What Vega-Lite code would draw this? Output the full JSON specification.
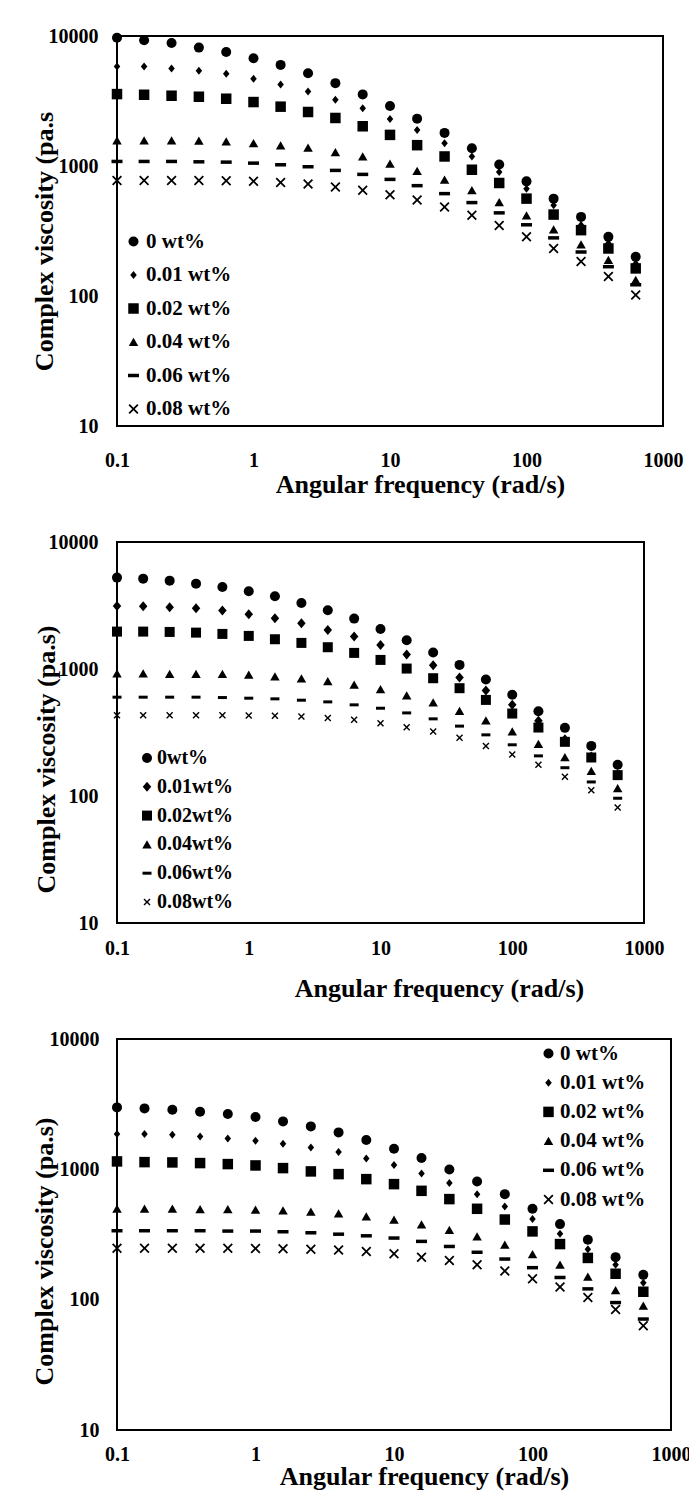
{
  "$schema": "https://vega.github.io/schema/vega-lite/v6.json",
  "background": "white",
  "padding": {"left": 30, "top": 25, "right": 5, "bottom": 5},
  "bounds": "flush",
  "spacing": 116,
  "config": {
    "font": "Liberation Serif",
    "view": {"stroke": "black", "strokeWidth": 2},
    "axis": {
      "labelFont": "Liberation Serif", "labelFontSize": 20, "labelFontWeight": "bold", "labelColor": "black",
      "titleFont": "Liberation Serif", "titleFontSize": 26, "titleFontWeight": "bold", "titleColor": "black",
      "grid": false, "ticks": false, "tickSize": 0, "domain": false, "labelFlush": false, "labelOverlap": false
    },
    "legend": {
      "orient": "none", "title": null, "labelFont": "Liberation Serif", "labelFontWeight": "bold",
      "labelColor": "black", "symbolFillColor": "black", "symbolStrokeWidth": 0, "symbolSize": 100,
      "padding": 0, "labelOffset": 2
    }
  },
  "datasets": {
    "p1": [
      {"f": 0.1, "a": 9710, "b": 5822, "c": 3574, "d": 1570, "e": 1084, "g": 775},
      {"f": 0.158, "a": 9265, "b": 5822, "c": 3532, "d": 1570, "e": 1084, "g": 775},
      {"f": 0.251, "a": 8840, "b": 5623, "c": 3472, "d": 1570, "e": 1084, "g": 775},
      {"f": 0.398, "a": 8140, "b": 5395, "c": 3411, "d": 1561, "e": 1077, "g": 775},
      {"f": 0.631, "a": 7540, "b": 5117, "c": 3292, "d": 1542, "e": 1071, "g": 771},
      {"f": 1, "a": 6745, "b": 4686, "c": 3104, "d": 1497, "e": 1052, "g": 762},
      {"f": 1.58, "a": 5995, "b": 4239, "c": 2860, "d": 1437, "e": 1022, "g": 748},
      {"f": 2.51, "a": 5175, "b": 3748, "c": 2603, "d": 1379, "e": 987, "g": 727},
      {"f": 3.98, "a": 4340, "b": 3235, "c": 2341, "d": 1278, "e": 925, "g": 689},
      {"f": 6.31, "a": 3555, "b": 2776, "c": 2021, "d": 1184, "e": 862, "g": 650},
      {"f": 10, "a": 2893, "b": 2300, "c": 1735, "d": 1040, "e": 789, "g": 602},
      {"f": 15.8, "a": 2314, "b": 1894, "c": 1446, "d": 914, "e": 706, "g": 548},
      {"f": 25.1, "a": 1797, "b": 1497, "c": 1184, "d": 785, "e": 613, "g": 484},
      {"f": 39.8, "a": 1371, "b": 1184, "c": 936, "d": 650, "e": 523, "g": 418},
      {"f": 63.1, "a": 1028, "b": 898, "c": 740, "d": 526, "e": 436, "g": 348},
      {"f": 100, "a": 762, "b": 669, "c": 561, "d": 416, "e": 353, "g": 285},
      {"f": 158, "a": 561, "b": 499, "c": 423, "d": 325, "e": 280, "g": 232},
      {"f": 251, "a": 406, "b": 351, "c": 321, "d": 249, "e": 218, "g": 184},
      {"f": 398, "a": 285, "b": 254, "c": 232, "d": 189, "e": 168, "g": 141},
      {"f": 631, "a": 200, "b": 178, "c": 163, "d": 133, "e": 122, "g": 102}
    ],
    "p2": [
      {"f": 0.1, "a": 5242, "b": 3137, "c": 1970, "d": 921, "e": 600, "g": 433},
      {"f": 0.158, "a": 5147, "b": 3118, "c": 1970, "d": 921, "e": 600, "g": 433},
      {"f": 0.251, "a": 4963, "b": 3062, "c": 1958, "d": 915, "e": 600, "g": 433},
      {"f": 0.398, "a": 4700, "b": 3006, "c": 1934, "d": 915, "e": 600, "g": 433},
      {"f": 0.631, "a": 4426, "b": 2882, "c": 1889, "d": 915, "e": 596, "g": 433},
      {"f": 1, "a": 4091, "b": 2697, "c": 1822, "d": 899, "e": 589, "g": 430},
      {"f": 1.58, "a": 3738, "b": 2508, "c": 1715, "d": 872, "e": 582, "g": 428},
      {"f": 2.51, "a": 3311, "b": 2292, "c": 1605, "d": 841, "e": 568, "g": 423},
      {"f": 3.98, "a": 2900, "b": 2031, "c": 1484, "d": 801, "e": 551, "g": 412},
      {"f": 6.31, "a": 2494, "b": 1800, "c": 1339, "d": 750, "e": 522, "g": 398},
      {"f": 10, "a": 2068, "b": 1547, "c": 1179, "d": 693, "e": 491, "g": 374},
      {"f": 15.8, "a": 1684, "b": 1299, "c": 1008, "d": 618, "e": 451, "g": 348},
      {"f": 25.1, "a": 1347, "b": 1071, "c": 846, "d": 544, "e": 405, "g": 322},
      {"f": 39.8, "a": 1077, "b": 856, "c": 706, "d": 468, "e": 355, "g": 287},
      {"f": 63.1, "a": 826, "b": 677, "c": 571, "d": 393, "e": 303, "g": 248},
      {"f": 100, "a": 626, "b": 522, "c": 446, "d": 322, "e": 253, "g": 212},
      {"f": 158, "a": 465, "b": 391, "c": 346, "d": 257, "e": 207, "g": 176},
      {"f": 251, "a": 344, "b": 280, "c": 267, "d": 202, "e": 167, "g": 142},
      {"f": 398, "a": 248, "b": 205, "c": 201, "d": 157, "e": 129, "g": 111},
      {"f": 631, "a": 176, "b": 149, "c": 146, "d": 115, "e": 96, "g": 81}
    ],
    "p3": [
      {"f": 0.1, "a": 2988, "b": 1865, "c": 1150, "d": 498, "e": 338, "g": 248},
      {"f": 0.158, "a": 2935, "b": 1865, "c": 1136, "d": 498, "e": 338, "g": 248},
      {"f": 0.251, "a": 2867, "b": 1843, "c": 1130, "d": 498, "e": 338, "g": 248},
      {"f": 0.398, "a": 2767, "b": 1789, "c": 1117, "d": 495, "e": 338, "g": 248},
      {"f": 0.631, "a": 2656, "b": 1727, "c": 1097, "d": 495, "e": 336, "g": 248},
      {"f": 1, "a": 2518, "b": 1657, "c": 1071, "d": 489, "e": 336, "g": 247},
      {"f": 1.58, "a": 2333, "b": 1572, "c": 1022, "d": 483, "e": 332, "g": 246},
      {"f": 2.51, "a": 2135, "b": 1473, "c": 964, "d": 472, "e": 326, "g": 244},
      {"f": 3.98, "a": 1920, "b": 1356, "c": 919, "d": 459, "e": 318, "g": 241},
      {"f": 6.31, "a": 1677, "b": 1213, "c": 841, "d": 435, "e": 309, "g": 234},
      {"f": 10, "a": 1439, "b": 1078, "c": 770, "d": 410, "e": 297, "g": 225},
      {"f": 15.8, "a": 1220, "b": 930, "c": 684, "d": 378, "e": 280, "g": 212},
      {"f": 25.1, "a": 998, "b": 784, "c": 591, "d": 343, "e": 256, "g": 200},
      {"f": 39.8, "a": 807, "b": 645, "c": 498, "d": 305, "e": 231, "g": 185},
      {"f": 63.1, "a": 645, "b": 519, "c": 412, "d": 264, "e": 205, "g": 166},
      {"f": 100, "a": 498, "b": 415, "c": 334, "d": 223, "e": 176, "g": 145},
      {"f": 158, "a": 380, "b": 320, "c": 267, "d": 185, "e": 148, "g": 125},
      {"f": 251, "a": 288, "b": 244, "c": 209, "d": 150, "e": 121, "g": 104},
      {"f": 398, "a": 212, "b": 185, "c": 158, "d": 118, "e": 95, "g": 84},
      {"f": 631, "a": 155, "b": 135, "c": 115, "d": 90, "e": 71, "g": 63}
    ]
  },
  "vconcat": [
    {
      "width": 546, "height": 390,
      "data": {"name": "p1"},
      "transform": [{"fold": ["a", "b", "c", "d", "e", "g"], "as": ["s", "eta"]}],
      "mark": {"type": "point", "filled": true, "color": "black", "opacity": 1, "strokeWidth": 0, "size": 100},
      "encoding": {
        "x": {"field": "f", "type": "quantitative",
          "scale": {"type": "log", "domain": [0.1, 1000], "nice": false},
          "axis": {"values": [0.1, 1, 10, 100, 1000], "format": "~g", "labelPadding": 24,
            "title": "Angular frequency (rad/s)", "titleX": 303, "titleY": 66, "titleAlign": "center", "titleBaseline": "alphabetic"}},
        "y": {"field": "eta", "type": "quantitative",
          "scale": {"type": "log", "domain": [10, 10000], "nice": false},
          "axis": {"values": [10, 100, 1000, 10000], "format": "~g", "labelPadding": 19,
            "title": "Complex viscosity (pa.s", "titleX": -65, "titleY": 205, "titleAlign": "center", "titleBaseline": "alphabetic", "titleAngle": 270}},
        "shape": {"field": "s", "type": "nominal",
          "scale": {"domain": ["a", "b", "c", "d", "e", "g"],
            "range": ["circle", "M0,-0.8L0.65,0L0,0.8L-0.65,0Z", "M-1.05,-1.05H1.05V1.05H-1.05Z", "M0,-0.85L0.95,0.8L-0.95,0.8Z", "M-1.1,-0.35H1.1V0.35H-1.1Z", "M-1,-0.75L-0.75,-1L0,-0.25L0.75,-1L1,-0.75L0.25,0L1,0.75L0.75,1L0,0.25L-0.75,1L-1,0.75L-0.25,0Z"]},
          "legend": {"legendX": 6, "legendY": 195, "labelFontSize": 21, "rowPadding": 11.5,
            "labelExpr": "{'a':'0 wt%','b':'0.01 wt%','c':'0.02 wt%','d':'0.04 wt%','e':'0.06 wt%','g':'0.08 wt%'}[datum.label]"}}
      }
    },
    {
      "width": 527, "height": 381,
      "data": {"name": "p2"},
      "transform": [{"fold": ["a", "b", "c", "d", "e", "g"], "as": ["s", "eta"]}],
      "mark": {"type": "point", "filled": true, "color": "black", "opacity": 1, "strokeWidth": 0, "size": 100},
      "encoding": {
        "x": {"field": "f", "type": "quantitative",
          "scale": {"type": "log", "domain": [0.1, 1000], "nice": false},
          "axis": {"values": [0.1, 1, 10, 100, 1000], "format": "~g", "labelPadding": 15,
            "title": "Angular frequency (rad/s)", "titleX": 322, "titleY": 73, "titleAlign": "center", "titleBaseline": "alphabetic"}},
        "y": {"field": "eta", "type": "quantitative",
          "scale": {"type": "log", "domain": [10, 10000], "nice": false},
          "axis": {"values": [10, 100, 1000, 10000], "format": "~g", "labelPadding": 19,
            "title": "Complex viscosity (pa.s)", "titleX": -63, "titleY": 217, "titleAlign": "center", "titleBaseline": "alphabetic", "titleAngle": 270}},
        "shape": {"field": "s", "type": "nominal",
          "scale": {"domain": ["a", "b", "c", "d", "e", "g"],
            "range": ["circle", "M0,-1L0.85,0L0,1L-0.85,0Z", "M-1,-1H1V1H-1Z", "M0,-0.85L0.95,0.8L-0.95,0.8Z", "M-0.9,-0.3H0.9V0.3H-0.9Z", "M-0.7,-0.5L-0.5,-0.7L0,-0.2L0.5,-0.7L0.7,-0.5L0.2,0L0.7,0.5L0.5,0.7L0,0.2L-0.5,0.7L-0.7,0.5L-0.2,0Z"]},
          "legend": {"legendX": 20, "legendY": 206, "labelFontSize": 20, "rowPadding": 8.8, "labelOffset": 0,
            "labelExpr": "{'a':'0wt%','b':'0.01wt%','c':'0.02wt%','d':'0.04wt%','e':'0.06wt%','g':'0.08wt%'}[datum.label]"}}
      }
    },
    {
      "width": 554, "height": 391,
      "data": {"name": "p3"},
      "transform": [{"fold": ["a", "b", "c", "d", "e", "g"], "as": ["s", "eta"]}],
      "mark": {"type": "point", "filled": true, "color": "black", "opacity": 1, "strokeWidth": 0, "size": 100},
      "encoding": {
        "x": {"field": "f", "type": "quantitative",
          "scale": {"type": "log", "domain": [0.1, 1000], "nice": false},
          "axis": {"values": [0.1, 1, 10, 100, 1000], "format": "~g", "labelPadding": 14,
            "title": "Angular frequency (rad/s)", "titleX": 307, "titleY": 54, "titleAlign": "center", "titleBaseline": "alphabetic"}},
        "y": {"field": "eta", "type": "quantitative",
          "scale": {"type": "log", "domain": [10, 10000], "nice": false},
          "axis": {"values": [10, 100, 1000, 10000], "format": "~g", "labelPadding": 18,
            "title": "Complex viscosity (pa.s)", "titleX": -65, "titleY": 212, "titleAlign": "center", "titleBaseline": "alphabetic", "titleAngle": 270}},
        "shape": {"field": "s", "type": "nominal",
          "scale": {"domain": ["a", "b", "c", "d", "e", "g"],
            "range": ["circle", "M0,-0.8L0.65,0L0,0.8L-0.65,0Z", "M-1.05,-1.05H1.05V1.05H-1.05Z", "M0,-0.85L0.95,0.8L-0.95,0.8Z", "M-1.1,-0.35H1.1V0.35H-1.1Z", "M-1,-0.75L-0.75,-1L0,-0.25L0.75,-1L1,-0.75L0.25,0L1,0.75L0.75,1L0,0.25L-0.75,1L-1,0.75L-0.25,0Z"]},
          "legend": {"legendX": 421, "legendY": 4, "labelFontSize": 21, "rowPadding": 7.2, "labelOffset": 1,
            "labelExpr": "{'a':'0 wt%','b':'0.01 wt%','c':'0.02 wt%','d':'0.04 wt%','e':'0.06 wt%','g':'0.08 wt%'}[datum.label]"}}
      }
    }
  ],
  "resolve": {"scale": {"shape": "independent"}, "legend": {"shape": "independent"}}
}
